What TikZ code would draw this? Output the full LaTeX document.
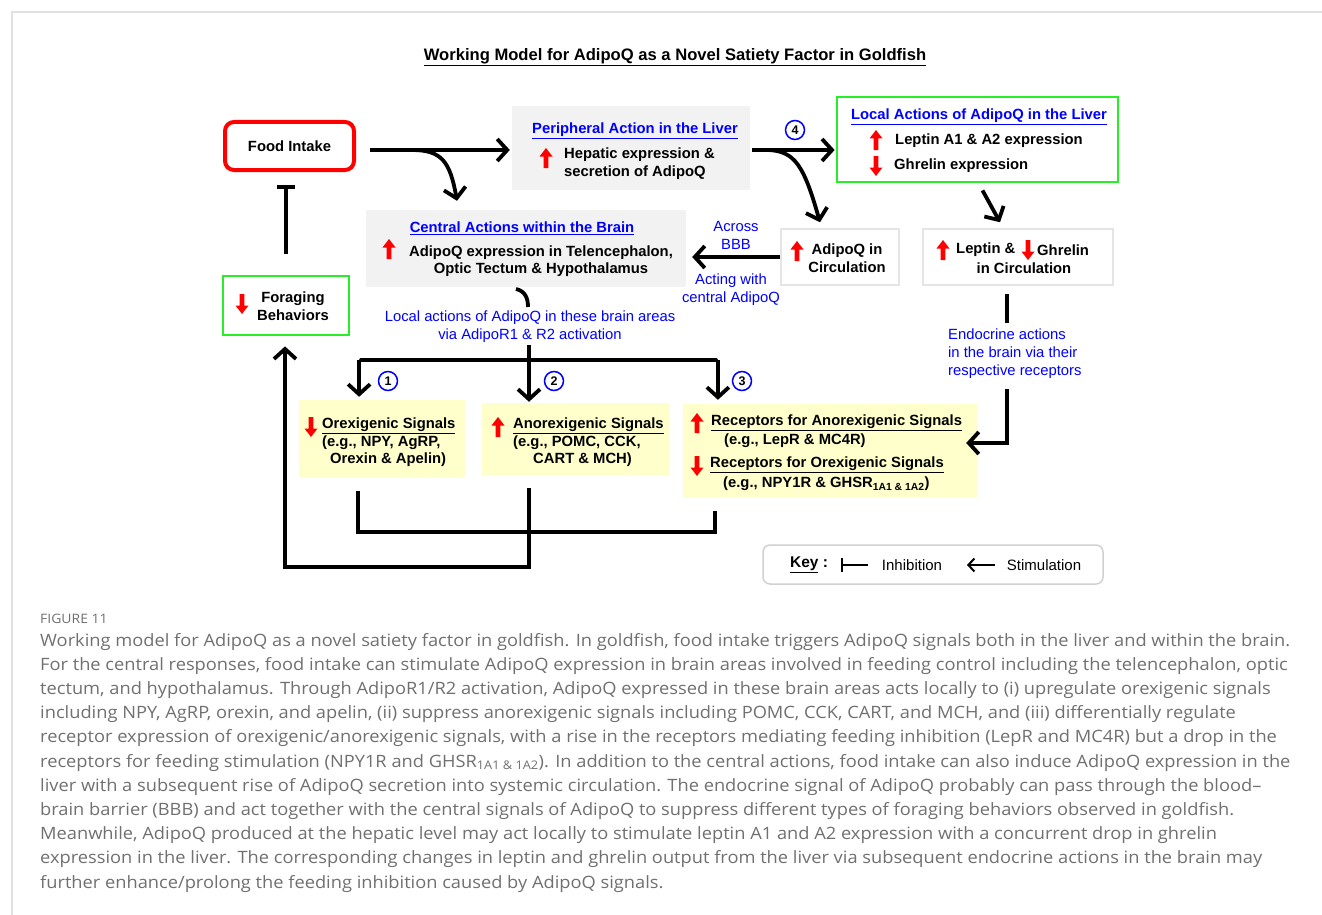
\documentclass[tikz,border=0pt]{standalone}
\usepackage{fontspec}
\setmainfont{Liberation Sans}
\newfontfamily\capfont[FakeStretch=1.074]{Open Sans}
\usetikzlibrary{arrows.meta,shadows,calc}
\definecolor{boxgray}{RGB}{242,242,242}
\definecolor{boxyel}{RGB}{255,255,204}
\definecolor{boxgreen}{RGB}{40,238,40}
\definecolor{capgray}{RGB}{112,112,112}
\definecolor{framegray}{RGB}{225,225,225}
\tikzset{
  arr/.style={line width=3.8pt, -{Straight Barb[length=10pt,width=22pt,line width=3.8pt]}},
  thk/.style={line width=3.8pt},
  inh/.style={line width=3.8pt, -{Bar[width=18pt,line width=3.8pt]}},
  bx/.style={inner sep=0pt, font=\bfseries\fontsize{14.8}{17.5}\selectfont},
  ttl/.style={inner sep=0pt, text=blue, font=\bfseries\fontsize{14.8}{17.5}\selectfont},
  lbl/.style={inner sep=0pt, text=blue, font=\fontsize{14.8}{17.8}\selectfont, align=center},
  graybox/.style={fill=boxgray, draw=none, inner sep=0pt},
  yelbox/.style={fill=boxyel, draw=none, inner sep=0pt},
  greenbox/.style={draw=boxgreen, line width=2.8pt, fill=white, inner sep=0pt},
  shbox/.style={draw=black!10, line width=1.5pt, fill=white, inner sep=0pt,
    drop shadow={shadow xshift=1.2pt, shadow yshift=-1.2pt, opacity=0.25, fill=black!40}},
  foodbox/.style={draw=red, line width=4pt, rounded corners=9pt, fill=white,
    minimum width=129pt, minimum height=48pt, font=\bfseries\fontsize{14.8}{17.5}\selectfont},
  numc/.style={circle, draw=blue, line width=1.5pt, inner sep=0pt, minimum size=19pt,
    font=\bfseries\fontsize{12.5}{12.5}\selectfont},
  captxt/.style={inner sep=0pt, anchor=base west, text=capgray, font=\capfont\fontsize{17}{20}\selectfont},
  redup/.pic={\fill[red] (0,-10) -- (6.5,-1.5) -- (2.3,-1.5) -- (2.3,10) -- (-2.3,10) -- (-2.3,-1.5) -- (-6.5,-1.5) -- cycle;},
  reddown/.pic={\fill[red] (0,10) -- (6.5,1.5) -- (2.3,1.5) -- (2.3,-10) -- (-2.3,-10) -- (-2.3,1.5) -- (-6.5,1.5) -- cycle;},
}
\begin{document}
\begin{tikzpicture}[x=1pt,y=-1pt]
\useasboundingbox (0,0) rectangle (1322,915);
\fill[white] (0,0) rectangle (1322,915);
\draw[framegray, line width=1.2pt] (12,915) -- (12,12) -- (1322,12);

% title
\node[inner sep=0pt, font=\bfseries\fontsize{16.6}{19}\selectfont] (title) at (675,57)
  {\underline{Working Model for AdipoQ as a Novel Satiety Factor in Goldfish}};

% Food intake
\node[foodbox] (food) at (289.5,146) {Food Intake};

% Peripheral
\node[graybox, minimum width=238pt, minimum height=84pt] (peri) at (631,148) {};
\node[ttl] (perit) at (635,131) {\underline{Peripheral Action in the Liver}};
\pic at (546,158) {redup};
\node[bx, anchor=west, align=left] (perix) at (564,163.5) {Hepatic expression \&\\secretion of AdipoQ};

% Local actions in liver
\node[greenbox, minimum width=281pt, minimum height=85pt] (local) at (977.5,139.5) {};
\node[ttl] (localt) at (979,117) {\underline{Local Actions of AdipoQ in the Liver}};
\pic at (876,140) {redup};
\node[bx, anchor=west] (lep1) at (895,141) {Leptin A1 \& A2 expression};
\pic at (876,166) {reddown};
\node[bx, anchor=west] (ghr1) at (894,166) {Ghrelin expression};

% AdipoQ in circulation
\node[shbox, minimum width=118pt, minimum height=56pt] (circ) at (840,257) {};
\pic at (797,251) {redup};
\node[bx, align=center] (circt) at (847,258) {AdipoQ in\\Circulation};

% Leptin & Ghrelin in circulation
\node[shbox, minimum width=190pt, minimum height=56pt] (lep) at (1018,257) {};
\pic at (943,250) {redup};
\node[bx, anchor=west] (lepa) at (956,250) {Leptin \&};
\pic at (1028,250) {reddown};
\node[bx, anchor=west] (lepb) at (1037,250) {Ghrelin};
\node[bx] (lepc) at (1024,268) {in Circulation};

% Central actions
\node[graybox, minimum width=320pt, minimum height=77pt] (cent) at (526,248.5) {};
\node[ttl] (centt) at (522,228) {\underline{Central Actions within the Brain}};
\pic at (389,249) {redup};
\node[bx, align=center] (centx) at (541,261) {AdipoQ expression in Telencephalon,\\Optic Tectum \& Hypothalamus};

% Foraging
\node[greenbox, minimum width=126pt, minimum height=59pt] (forage) at (286,305.5) {};
\pic at (242,304) {reddown};
\node[bx, align=center] (foraget) at (293,306) {Foraging\\Behaviors};

% Orexigenic
\node[yelbox, minimum width=166pt, minimum height=78pt] (orex) at (382,439) {};
\pic at (311,427) {reddown};
\node[bx, anchor=north west, align=left] (orext) at (322,418)
  {\underline{Orexigenic Signals}\\(e.g., NPY, AgRP,\\\hspace*{8pt}Orexin \& Apelin)};

% Anorexigenic
\node[yelbox, minimum width=187pt, minimum height=72pt] (ano) at (575.5,439) {};
\pic at (498,427) {redup};
\node[bx, anchor=north west, align=left] (anot) at (513,418)
  {\underline{Anorexigenic Signals}\\(e.g., POMC, CCK,\\\hspace*{20pt}CART \& MCH)};

% Receptors
\node[yelbox, minimum width=294pt, minimum height=94pt] (rec) at (830,451) {};
\pic at (697,423) {redup};
\node[bx, anchor=west] (rec1) at (711,423) {\underline{Receptors for Anorexigenic Signals}};
\node[bx, anchor=west] (rec2) at (724,441) {(e.g., LepR \& MC4R)};
\pic at (697,466) {reddown};
\node[bx, anchor=west] (rec3) at (710,465) {\underline{Receptors for Orexigenic Signals}};
\node[bx, anchor=west] (rec4) at (723,484) {(e.g., NPY1R \& GHSR\textsubscript{1A1 \& 1A2})};

% numbered circles
\node[numc] (n4) at (795,130) {4};
\node[numc] (n1) at (388,381) {1};
\node[numc] (n2) at (554,381) {2};
\node[numc] (n3) at (742,381) {3};

% blue labels
\node[lbl] (bbb) at (736,235.5) {Across\\BBB};
\node[lbl] (acting) at (731,289.5) {Acting with\\central AdipoQ};
\node[lbl] (locl) at (530,327) {Local actions of AdipoQ in these brain areas\\via AdipoR1 \& R2 activation};
\node[lbl, align=left, anchor=north west] (endo) at (948,329) {Endocrine actions\\in the brain via their\\respective receptors};

% connectors
\draw[arr] ([xshift=14pt,yshift=-4pt]food.east) -- ([yshift=-2pt,xshift=-2pt]peri.west);
\draw[arr] (412,150) .. controls (442,150) and (450,162) .. ([xshift=-69pt,yshift=9pt]cent.north);
\draw[arr] ([xshift=2pt,yshift=-2pt]peri.east) -- ([xshift=-1pt,yshift=-10.5pt]local.west);
\draw[arr] (768,150) .. controls (795,151) and (804,166) .. ([xshift=-20pt,yshift=6pt]circ.north);
\draw[arr] ([xshift=5pt,yshift=-7pt]local.south) -- ([xshift=-18pt,yshift=6pt]lep.north);
\draw[arr] ([yshift=0pt]circ.west) -- ([xshift=6pt,yshift=-8.5pt]cent.east);
\draw[thk] (516,289) .. controls (525,291) and (528,298) .. (528,307);

\coordinate (hub) at (529,360);
\coordinate (bl) at (361,360);
\coordinate (br) at (716,360);
\draw[thk] ([yshift=-2pt]locl.south -| hub) -- (hub);
\draw[thk, line cap=round] (bl) -- (br);
\draw[arr] (hub) -- ([yshift=1pt]hub |- ano.north);
\draw[arr] ([xshift=-1.9pt]bl) -- ([xshift=-1.9pt,yshift=3pt]bl |- orex.north);
\draw[arr] ([xshift=1.9pt]br) -- ([xshift=1.9pt,yshift=4pt]br |- rec.north);

\draw[thk] ([xshift=-11pt,yshift=-8pt]lep.south) -- ++(0,29);
\draw[arr] (1007,389) -- (1007,443) -- ([xshift=-11pt,yshift=8pt]rec.east);

\draw[thk] ([xshift=-24pt,yshift=-13pt]orex.south) |- (715,532) -- ([xshift=-115pt,yshift=-13pt]rec.south);
\draw[arr] ([xshift=-46.5pt,yshift=-13pt]ano.south) |- (285,567) -- ([xshift=-1pt,yshift=-10pt]forage.south);
\draw[inh] ([yshift=21pt]forage.north) -- ([yshift=-13pt]forage.north |- food.south);

% key
\node[draw=black!18, line width=1.5pt, rounded corners=7pt, fill=white,
  minimum width=340pt, minimum height=39pt] (key) at (933,564.5) {};
\node[inner sep=0pt, font=\bfseries\fontsize{15.5}{18}\selectfont] (keyt) at (809,565) {\underline{Key} :};
\coordinate (ki1) at (841,565);
\coordinate (ki2) at (868,565);
\draw[line width=2pt, {Bar[width=14pt,line width=2pt]}-] (ki1) -- (ki2);
\node[inner sep=0pt, font=\fontsize{15}{17}\selectfont] (inhib) at (912,565) {Inhibition};
\coordinate (ks1) at (995,565);
\coordinate (ks2) at (967,565);
\draw[line width=2pt, -{Straight Barb[length=6pt,width=13pt,line width=2pt]}] (ks1) -- (ks2);
\node[inner sep=0pt, font=\fontsize{15}{17}\selectfont] (stim) at (1044,565) {Stimulation};

% caption
\node[captxt, font=\capfont\fontsize{13}{15}\selectfont] (fig) at (40,623) {FIGURE 11};
\node[captxt] (c1) at (40,646) {Working model for AdipoQ as a novel satiety factor in goldfish. In goldfish, food intake triggers AdipoQ signals both in the liver and within the brain.};
\node[captxt] (c2) at (40,670.2) {For the central responses, food intake can stimulate AdipoQ expression in brain areas involved in feeding control including the telencephalon, optic};
\node[captxt] (c3) at (40,694.4) {tectum, and hypothalamus. Through AdipoR1/R2 activation, AdipoQ expressed in these brain areas acts locally to (i) upregulate orexigenic signals};
\node[captxt] (c4) at (40,718.6) {including NPY, AgRP, orexin, and apelin, (ii) suppress anorexigenic signals including POMC, CCK, CART, and MCH, and (iii) differentially regulate};
\node[captxt] (c5) at (40,742.8) {receptor expression of orexigenic/anorexigenic signals, with a rise in the receptors mediating feeding inhibition (LepR and MC4R) but a drop in the};
\node[captxt] (c6) at (40,767) {receptors for feeding stimulation (NPY1R and GHSR\textsubscript{1A1 \& 1A2}). In addition to the central actions, food intake can also induce AdipoQ expression in the};
\node[captxt] (c7) at (40,791.2) {liver with a subsequent rise of AdipoQ secretion into systemic circulation. The endocrine signal of AdipoQ probably can pass through the blood–};
\node[captxt] (c8) at (40,815.4) {brain barrier (BBB) and act together with the central signals of AdipoQ to suppress different types of foraging behaviors observed in goldfish.};
\node[captxt] (c9) at (40,839.6) {Meanwhile, AdipoQ produced at the hepatic level may act locally to stimulate leptin A1 and A2 expression with a concurrent drop in ghrelin};
\node[captxt] (c10) at (40,863.8) {expression in the liver. The corresponding changes in leptin and ghrelin output from the liver via subsequent endocrine actions in the brain may};
\node[captxt] (c11) at (40,888) {further enhance/prolong the feeding inhibition caused by AdipoQ signals.};
\end{tikzpicture}
\end{document}
